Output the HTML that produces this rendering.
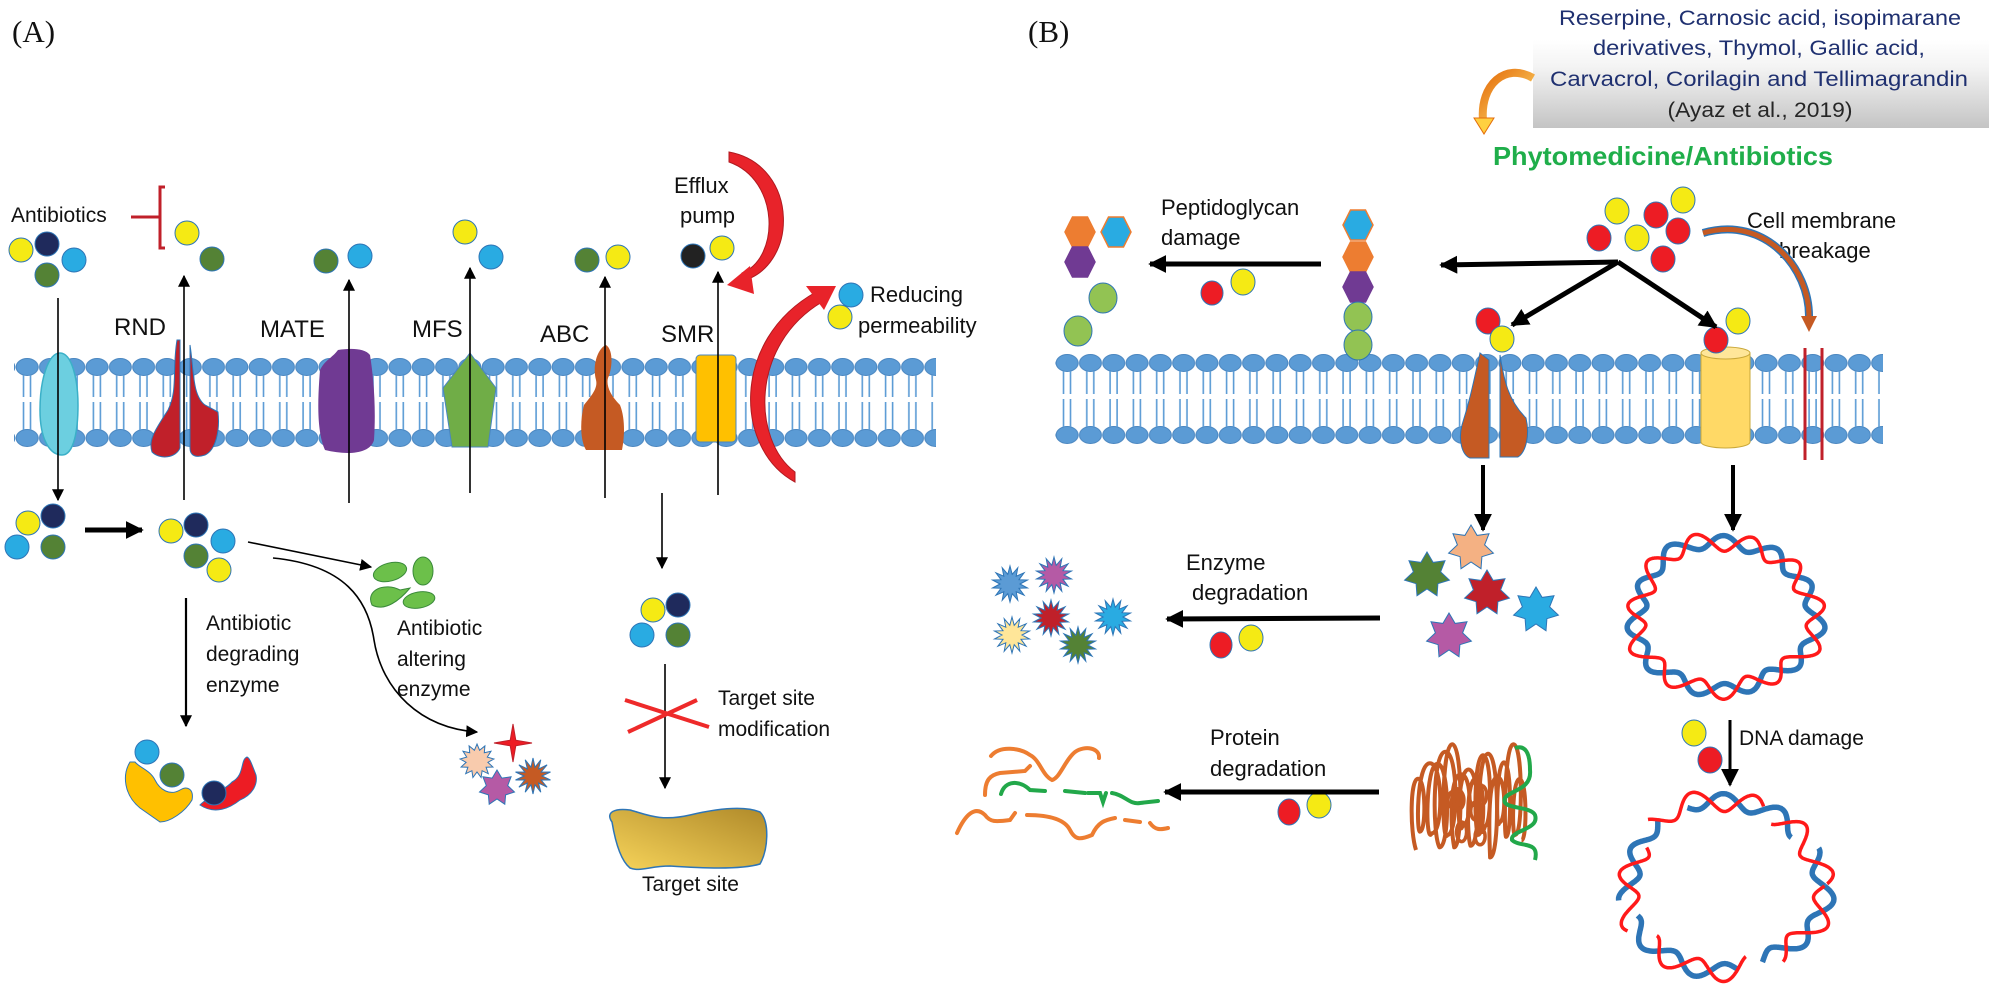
<!DOCTYPE html>
<html><head><meta charset="utf-8"><style>
html,body{margin:0;padding:0;background:#fff;}
svg{display:block;}
text{font-family:"Liberation Sans",sans-serif;fill:#111;}
</style></head><body>
<svg id="s" width="1995" height="985" viewBox="0 0 1995 985" xmlns="http://www.w3.org/2000/svg">
<defs>
<marker id="a1" viewBox="0 0 10 10" refX="9" refY="5" markerWidth="12" markerHeight="13" markerUnits="userSpaceOnUse" orient="auto"><path d="M0,0L10,5L0,10z" fill="#000"/></marker>
<marker id="a2" viewBox="0 0 10 10" refX="9" refY="5" markerWidth="18" markerHeight="18" markerUnits="userSpaceOnUse" orient="auto"><path d="M0,0L10,5L0,10z" fill="#000"/></marker>
<pattern id="headA" patternUnits="userSpaceOnUse" x="15.5" y="0" width="23.3" height="985"><ellipse cx="11.65" cy="367" rx="11" ry="8.5" fill="#5b9bd5" stroke="#4a86c0" stroke-width="1"/><ellipse cx="11.65" cy="438" rx="11" ry="8.5" fill="#5b9bd5" stroke="#4a86c0" stroke-width="1"/><path d="M8,375V397M15,375V397M8,402V430M15,402V430" stroke="#5b9bd5" stroke-width="1.6"/></pattern>
<pattern id="headB" patternUnits="userSpaceOnUse" x="1055.5" y="0" width="23.3" height="985"><ellipse cx="11.65" cy="363" rx="11" ry="8.5" fill="#5b9bd5" stroke="#4a86c0" stroke-width="1"/><ellipse cx="11.65" cy="435" rx="11" ry="8.5" fill="#5b9bd5" stroke="#4a86c0" stroke-width="1"/><path d="M8,371V394M15,371V394M8,399V427M15,399V427" stroke="#5b9bd5" stroke-width="1.6"/></pattern>
<linearGradient id="box" x1="0" y1="0" x2="0" y2="1"><stop offset="0" stop-color="#fff"/><stop offset="0.3" stop-color="#f4f4f4"/><stop offset="1" stop-color="#c4c4c4"/></linearGradient>
<linearGradient id="gold" x1="0" y1="1" x2="1" y2="0"><stop offset="0" stop-color="#f7d45a"/><stop offset="1" stop-color="#b08a2a"/></linearGradient>
<linearGradient id="oa" x1="0" y1="0" x2="1" y2="1"><stop offset="0" stop-color="#e46c0a"/><stop offset="1" stop-color="#ffe070"/></linearGradient>
</defs>

<text x="12" y="42" style="font-family:'Liberation Serif',serif;font-size:31px">(A)</text>
<text x="1028" y="42" style="font-family:'Liberation Serif',serif;font-size:31px">(B)</text>

<rect x="14" y="355" width="922" height="95" fill="url(#headA)"/>
<rect x="1055" y="351" width="828" height="95" fill="url(#headB)"/>

<path d="M60,353 C72,353 78,380 78,405 C78,430 74,455 62,455 C50,455 40,440 40,410 C40,380 48,353 60,353z" fill="#6ccfe0" stroke="#3bb0c8" stroke-width="1.5"/>
<path d="M177,340 C172,370 178,390 168,410 C155,430 148,440 152,452 C160,460 176,458 180,448 L180,340z" fill="#c0202a" stroke="#2e75b6" stroke-width="1"/>
<path d="M190,345 C194,370 192,395 205,405 L218,412 C220,430 216,450 205,455 C196,458 190,456 190,448z" fill="#c0202a" stroke="#2e75b6" stroke-width="1"/>
<path d="M338,350 C350,348 365,348 370,355 C374,380 376,410 374,440 C370,455 345,455 325,450 C316,430 318,395 320,370 C325,360 332,358 338,350z" fill="#703a93"/>
<polygon points="470,353 496,388 488,447 452,447 443,388" fill="#70ad47" stroke="#4a86c0" stroke-width="1"/>
<path d="M606,345 C614,350 612,370 608,378 C606,385 610,395 620,405 C626,420 624,440 622,450 L586,450 C580,440 580,420 584,405 C592,395 598,388 596,380 C592,365 598,348 606,345z" fill="#c55a23"/>
<rect x="696" y="355" width="40" height="87" rx="4" fill="#ffc000" stroke="#4a86c0" stroke-width="1"/>

<g stroke="#2e75b6" stroke-width="1">
<circle cx="21" cy="250" r="12" fill="#f5ea14"/><circle cx="47" cy="244" r="12" fill="#1f2a5c"/><circle cx="74" cy="260" r="12" fill="#29abe2"/><circle cx="47" cy="275" r="12" fill="#548235"/>
<circle cx="187" cy="233" r="12" fill="#f5ea14"/><circle cx="212" cy="259" r="12" fill="#548235"/>
<circle cx="326" cy="261" r="12" fill="#548235"/><circle cx="360" cy="256" r="12" fill="#29abe2"/>
<circle cx="465" cy="232" r="12" fill="#f5ea14"/><circle cx="491" cy="257" r="12" fill="#29abe2"/>
<circle cx="587" cy="260" r="12" fill="#548235"/><circle cx="618" cy="257" r="12" fill="#f5ea14"/>
<circle cx="693" cy="256" r="12" fill="#222"/><circle cx="722" cy="248" r="12" fill="#f5ea14"/>
<circle cx="851" cy="295" r="12" fill="#29abe2"/><circle cx="840" cy="317" r="12" fill="#f5ea14"/>
<circle cx="28" cy="523" r="12" fill="#f5ea14"/><circle cx="53" cy="516" r="12" fill="#1f2a5c"/><circle cx="17" cy="547" r="12" fill="#29abe2"/><circle cx="53" cy="547" r="12" fill="#548235"/>
<circle cx="171" cy="531" r="12" fill="#f5ea14"/><circle cx="196" cy="525" r="12" fill="#1f2a5c"/><circle cx="223" cy="541" r="12" fill="#29abe2"/><circle cx="196" cy="556" r="12" fill="#548235"/><circle cx="219" cy="570" r="12" fill="#f5ea14"/>
<circle cx="653" cy="610" r="12" fill="#f5ea14"/><circle cx="678" cy="605" r="12" fill="#1f2a5c"/><circle cx="642" cy="635" r="12" fill="#29abe2"/><circle cx="678" cy="635" r="12" fill="#548235"/>
</g>

<text x="11" y="222" style="font-size:21px">Antibiotics</text>
<path d="M131,217H160M165,187H160V248H165" stroke="#c0202a" stroke-width="3" fill="none"/>

<text x="114" y="335" style="font-size:24px">RND</text>
<text x="260" y="337" style="font-size:24px">MATE</text>
<text x="412" y="337" style="font-size:24px">MFS</text>
<text x="540" y="342" style="font-size:24px">ABC</text>
<text x="661" y="342" style="font-size:24px">SMR</text>
<text x="674" y="193" style="font-size:22px">Efflux</text>
<text x="680" y="223" style="font-size:22px">pump</text>
<text x="870" y="302" style="font-size:22px">Reducing</text>
<text x="858" y="333" style="font-size:22px">permeability</text>

<g stroke="#000" stroke-width="1.6" fill="none" marker-end="url(#a1)">
<line x1="58" y1="298" x2="58" y2="500"/>
<line x1="184" y1="500" x2="184" y2="276"/>
<line x1="349" y1="503" x2="349" y2="280"/>
<line x1="470" y1="493" x2="470" y2="268"/>
<line x1="605" y1="498" x2="605" y2="277"/>
<line x1="718" y1="495" x2="718" y2="272"/>
<line x1="248" y1="542" x2="371" y2="567"/>
<path d="M273,558 C345,565 368,600 374,640 C382,690 420,728 477,732"/>
<line x1="186" y1="598" x2="186" y2="726" stroke-width="2.2"/>
<line x1="662" y1="493" x2="662" y2="568"/>
<line x1="665" y1="664" x2="665" y2="788"/>
</g>
<line x1="85" y1="530" x2="142" y2="530" stroke="#000" stroke-width="5" marker-end="url(#a2)"/>

<path d="M729,152 C800,165 800,270 738,282 L742,273 C780,258 780,180 729,162z" fill="#e8232a" stroke="#b01a20" stroke-width="1"/>
<polygon points="727,285 750,266 754,294" fill="#e8232a"/>
<path d="M795,482 C735,450 730,340 816,292 L822,302 C750,345 752,440 795,472z" fill="#e8232a" stroke="#b01a20" stroke-width="1"/>
<polygon points="836,286 806,286 824,310" fill="#e8232a"/>

<text x="206" y="630" style="font-size:21px">Antibiotic</text>
<text x="206" y="661" style="font-size:21px">degrading</text>
<text x="206" y="692" style="font-size:21px">enzyme</text>
<text x="397" y="635" style="font-size:21px">Antibiotic</text>
<text x="397" y="666" style="font-size:21px">altering</text>
<text x="397" y="696" style="font-size:21px">enzyme</text>
<text x="718" y="705" style="font-size:21px">Target site</text>
<text x="718" y="736" style="font-size:21px">modification</text>
<text x="642" y="891" style="font-size:21px">Target site</text>

<g fill="#6cc04a" stroke="#3a8a3a" stroke-width="1">
<ellipse cx="390" cy="572" rx="17" ry="9" transform="rotate(-15 390 572)"/>
<ellipse cx="423" cy="571" rx="10" ry="14"/>
<path d="M372,605 C365,590 385,582 400,590 L410,588 C400,600 385,612 372,605z"/>
<ellipse cx="419" cy="600" rx="16" ry="8" transform="rotate(-10 419 600)"/>
</g>

<path d="M130,762 C122,775 124,795 140,808 L160,822 C170,822 185,812 192,800 C194,790 188,785 180,790 C170,796 160,790 155,780 C150,770 140,768 135,762z" fill="#ffc000" stroke="#2e75b6" stroke-width="1"/>
<path d="M200,805 C215,815 230,808 240,800 C252,795 258,785 256,775 C252,765 250,758 247,757 C240,760 245,775 232,782 C225,790 210,795 200,805z" fill="#ed1c24" stroke="#2e75b6" stroke-width="1"/>
<g stroke="#2e75b6" stroke-width="1">
<circle cx="147" cy="752" r="12" fill="#29abe2"/><circle cx="172" cy="775" r="12" fill="#548235"/><circle cx="214" cy="793" r="12" fill="#1f2a5c"/>
</g>

<path d="M625,700L709,727M628,732L697,700" stroke="#ee2a2a" stroke-width="4"/>
<path d="M612,822 C605,812 615,808 630,810 C645,814 660,822 690,815 C720,808 745,806 760,812 C770,822 768,850 760,864 C740,870 700,868 670,866 C650,866 640,872 630,868 C620,860 615,840 612,822z" fill="url(#gold)" stroke="#2e75b6" stroke-width="1.5"/>

<g id="stars"></g>

<rect x="1533" y="40" width="456" height="88" fill="url(#box)"/>
<text x="1760" y="25" text-anchor="middle" style="fill:#1f3070;font-size:21px" textLength="402" lengthAdjust="spacingAndGlyphs">Reserpine, Carnosic acid,  isopimarane</text>
<text x="1759" y="55" text-anchor="middle" style="fill:#1f3070;font-size:21px" textLength="332" lengthAdjust="spacingAndGlyphs">derivatives, Thymol,  Gallic acid,</text>
<text x="1759" y="86" text-anchor="middle" style="fill:#1f3070;font-size:21px" textLength="418" lengthAdjust="spacingAndGlyphs">Carvacrol, Corilagin and  Tellimagrandin</text>
<text x="1760" y="117" text-anchor="middle" style="fill:#262626;font-size:21px" textLength="185" lengthAdjust="spacingAndGlyphs">(Ayaz et al., 2019)</text>
<path d="M1533,78 C1505,62 1480,85 1483,120" stroke="url(#oa)" stroke-width="8" fill="none"/>
<polygon points="1474,118 1494,118 1484,134" fill="#ffd040" stroke="#e46c0a" stroke-width="1"/>
<text x="1493" y="165" style="font-size:26px;font-weight:bold;fill:#1fae4a" textLength="340" lengthAdjust="spacingAndGlyphs">Phytomedicine/Antibiotics</text>

<text x="1161" y="215" style="font-size:22px">Peptidoglycan</text>
<text x="1161" y="245" style="font-size:22px">damage</text>
<text x="1747" y="228" style="font-size:22px">Cell membrane</text>
<text x="1779" y="258" style="font-size:22px">breakage</text>
<text x="1186" y="570" style="font-size:22px">Enzyme</text>
<text x="1192" y="600" style="font-size:22px">degradation</text>
<text x="1210" y="745" style="font-size:22px">Protein</text>
<text x="1210" y="776" style="font-size:22px">degradation</text>
<text x="1739" y="745" style="font-size:21px">DNA damage</text>

<g id="hex"></g>

<path d="M1480,353 C1474,380 1470,400 1462,425 C1458,440 1462,455 1470,458 L1489,458 L1489,360z" fill="#c55a23" stroke="#2e75b6" stroke-width="1"/>
<path d="M1500,355 C1504,380 1508,400 1526,418 C1530,435 1526,452 1518,457 L1500,457z" fill="#c55a23" stroke="#2e75b6" stroke-width="1"/>
<path d="M1701,353 V442 A24.5,6 0 0 0 1750,442 V353z" fill="#ffd966" stroke="#c9a83a" stroke-width="1"/>
<ellipse cx="1725.5" cy="353" rx="24.5" ry="6" fill="#ffe699" stroke="#c9a83a" stroke-width="1"/>
<path d="M1805,348V460M1822,348V460" stroke="#c0202a" stroke-width="3"/>

<g stroke="#2e75b6" stroke-width="1">
<ellipse cx="1617" cy="211" rx="12" ry="13" fill="#f5ea14"/><ellipse cx="1656" cy="215" rx="12" ry="13" fill="#ed1c24"/><ellipse cx="1683" cy="200" rx="12" ry="13" fill="#f5ea14"/>
<ellipse cx="1599" cy="238" rx="12" ry="13" fill="#ed1c24"/><ellipse cx="1637" cy="238" rx="12" ry="13" fill="#f5ea14"/><ellipse cx="1678" cy="231" rx="12" ry="13" fill="#ed1c24"/><ellipse cx="1663" cy="259" rx="12" ry="13" fill="#ed1c24"/>
<ellipse cx="1212" cy="293" rx="11" ry="12" fill="#ed1c24"/><ellipse cx="1243" cy="282" rx="12" ry="13" fill="#f5ea14"/>
<ellipse cx="1488" cy="321" rx="12" ry="13" fill="#ed1c24"/><ellipse cx="1502" cy="339" rx="12" ry="13" fill="#f5ea14"/>
<ellipse cx="1716" cy="340" rx="12" ry="13" fill="#ed1c24"/><ellipse cx="1738" cy="321" rx="12" ry="13" fill="#f5ea14"/>
<ellipse cx="1221" cy="645" rx="11" ry="13" fill="#ed1c24"/><ellipse cx="1251" cy="638" rx="12" ry="13" fill="#f5ea14"/>
<ellipse cx="1289" cy="812" rx="11" ry="13" fill="#ed1c24"/><ellipse cx="1319" cy="805" rx="12" ry="13" fill="#f5ea14"/>
<ellipse cx="1694" cy="733" rx="12" ry="13" fill="#f5ea14"/><ellipse cx="1710" cy="760" rx="12" ry="13" fill="#ed1c24"/>
</g>

<path d="M1703,233 C1765,215 1810,268 1809,318" stroke="#2e75b6" stroke-width="8" fill="none"/>
<path d="M1703,233 C1765,215 1810,268 1809,318" stroke="#c55a23" stroke-width="5" fill="none"/>
<polygon points="1801,316 1817,316 1809,332" fill="#c55a23"/>

<g stroke="#000" stroke-width="5" fill="none" marker-end="url(#a2)">
<line x1="1618" y1="262" x2="1441" y2="265"/>
<line x1="1618" y1="262" x2="1512" y2="325"/>
<line x1="1618" y1="262" x2="1716" y2="327"/>
<line x1="1321" y1="264" x2="1150" y2="264"/>
<line x1="1483" y1="465" x2="1483" y2="530" stroke-width="4"/>
<line x1="1733" y1="465" x2="1733" y2="530" stroke-width="4"/>
<line x1="1380" y1="618" x2="1167" y2="619"/>
<line x1="1379" y1="792" x2="1165" y2="792"/>
<line x1="1730" y1="720" x2="1730" y2="785" stroke-width="3"/>
</g>

<g fill="none" stroke-width="4" stroke-linecap="round">
<path d="M991,756 C1000,745 1020,748 1030,755 C1040,760 1042,775 1052,780 C1060,778 1065,760 1075,752 C1085,745 1100,748 1099,758" stroke="#ed7d31"/>
<path d="M985,795 C985,780 990,775 1000,773 L1025,771 L1030,766" stroke="#ed7d31"/>
<path d="M1001,794 C1005,780 1020,780 1030,790 L1045,791 M1065,791 L1085,793 M1088,793 L1100,793 L1103,802 L1106,793 M1112,793 C1125,795 1130,805 1140,803 L1158,801" stroke="#22a84a"/>
<path d="M957,833 C965,815 975,805 985,815 C990,822 995,822 1010,820 L1015,813 M1027,815 C1050,815 1065,820 1070,830 C1075,840 1080,840 1092,835 C1098,822 1105,820 1115,818 M1125,820 L1140,822 M1150,823 C1155,830 1160,830 1168,828" stroke="#ed7d31"/>
</g>

<g id="prot"></g>
<g id="dna"></g>
</svg>
<script>
(function(){
var NS="http://www.w3.org/2000/svg";
function el(p,tag,a){var e=document.createElementNS(NS,tag);for(var k in a)e.setAttribute(k,a[k]);document.getElementById(p).appendChild(e);return e;}
function star(cx,cy,n,ro,ri,fill,stroke,rot){var pts=[];rot=rot||-Math.PI/2;for(var i=0;i<2*n;i++){var r=i%2?ri:ro;var a=rot+i*Math.PI/n;pts.push((cx+r*Math.cos(a)).toFixed(1)+","+(cy+r*Math.sin(a)).toFixed(1));}el("stars","polygon",{points:pts.join(" "),fill:fill,stroke:stroke||"#2e75b6","stroke-width":1});}
star(513,743,4,19,4,"#ed1c24","#c0202a");
star(477,761,13,17,11,"#f8cbad");
star(497,788,7,18,11,"#b55aa5");
star(533,776,14,18,9,"#c55a23");
star(1471,548,7,23,14,"#f4b183");
star(1427,575,7,23,14,"#548235");
star(1487,593,7,23,14,"#c0202a");
star(1536,610,7,23,14,"#29abe2");
star(1449,636,7,23,14,"#b55aa5");
star(1010,584,14,18,10,"#5b9bd5");
star(1054,575,14,18,10,"#b55aa5");
star(1051,618,14,18,10,"#c0202a");
star(1012,635,14,18,10,"#ffe699");
star(1113,617,14,18,10,"#29abe2");
star(1078,645,14,18,10,"#548235");
function hex(x,y,fill,st){var p=[[x-15,y],[x-7.5,y-15],[x+7.5,y-15],[x+15,y],[x+7.5,y+15],[x-7.5,y+15]].map(function(q){return q.join(",")}).join(" ");el("hex","polygon",{points:p,fill:fill,stroke:st||fill,"stroke-width":1.5});}
hex(1080,232,"#ed7d31");hex(1116,232,"#29abe2","#ed7d31");hex(1080,262,"#703a93");
hex(1358,225,"#29abe2","#ed7d31");hex(1358,257,"#ed7d31");hex(1358,287,"#703a93");
[[1103,298],[1078,331],[1358,317],[1358,345]].forEach(function(c){el("hex","ellipse",{cx:c[0],cy:c[1],rx:14,ry:15,fill:"#92c353",stroke:"#2e75b6","stroke-width":1});});
function ring(cx,cy,rx,ry,amp,f,ph,col,w,dash){var d="";for(var i=0;i<=720;i++){var t=i*Math.PI/360;var s=Math.sin(f*t+ph);var r=1+amp*s+0.03*Math.sin(3*t+1)+0.02*Math.sin(5*t);var x=cx+rx*r*Math.cos(t),y=cy+ry*r*Math.sin(t);d+=(i?"L":"M")+x.toFixed(1)+","+y.toFixed(1);}var a={d:d,fill:"none",stroke:col,"stroke-width":w,"stroke-linejoin":"round"};if(dash)a["stroke-dasharray"]=dash;el("dna","path",a);}
ring(1724,616,90,74,0.09,11,0,"#2e75b6",5.5);
ring(1724,616,90,74,0.12,11,Math.PI,"#ff1a1a",3.5);
ring(1724,886,98,85,0.09,11,0,"#2e75b6",5.5,"130,30,150,25,110,40,140,30");
ring(1724,886,98,85,0.12,11,Math.PI,"#ff1a1a",3.5,"120,40,140,30,120,35,150,20");
var seed=7;function rnd(){seed=(seed*16807)%2147483647;return seed/2147483647;}
var d="M1416,850";
for(var i=0;i<14;i++){var x=1418+i*7.5+rnd()*6;var tp=742+rnd()*40,bt=820+rnd()*40;var w=6+rnd()*10;
d+=" C"+(x-w).toFixed(1)+","+bt.toFixed(1)+" "+(x-w).toFixed(1)+","+tp.toFixed(1)+" "+x.toFixed(1)+","+tp.toFixed(1);
d+=" C"+(x+w).toFixed(1)+","+tp.toFixed(1)+" "+(x+w).toFixed(1)+","+bt.toFixed(1)+" "+(x+2).toFixed(1)+","+bt.toFixed(1);}
el("prot","path",{d:d,fill:"none",stroke:"#c55a23","stroke-width":4,"stroke-linejoin":"round"});
for(var j=0;j<8;j++){el("prot","ellipse",{cx:(1425+rnd()*80).toFixed(1),cy:(780+rnd()*60).toFixed(1),rx:5,ry:(6+rnd()*6).toFixed(1),fill:"none",stroke:"#c55a23","stroke-width":3.5});}
el("prot","path",{d:"M1515,748 C1525,745 1530,752 1530,770 C1532,790 1510,790 1505,798 C1500,810 1530,805 1535,815 C1540,830 1510,830 1512,840 C1520,848 1540,840 1535,860",fill:"none",stroke:"#22a84a","stroke-width":4});
})();
</script>
</body></html>
